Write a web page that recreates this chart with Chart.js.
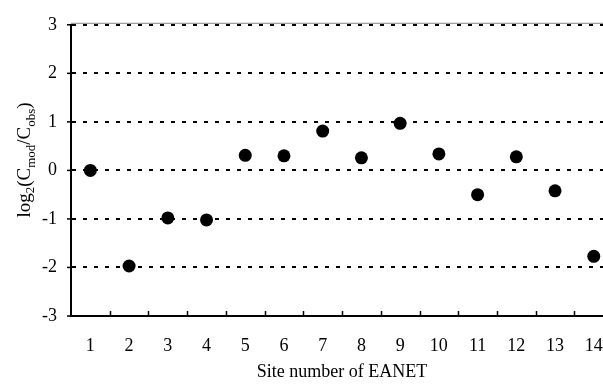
<!DOCTYPE html>
<html>
<head>
<meta charset="utf-8">
<script src="https://cdn.jsdelivr.net/npm/chart.js@4.4.0/dist/chart.umd.min.js"></script>
<style>
  html, body { margin: 0; padding: 0; background: #fff; overflow: hidden; }
  #wrap { width: 622px; height: 385px; }
</style>
</head>
<body>
<div id="wrap"><canvas id="siteChart" width="622" height="385"></canvas></div>
<script>
// site numbers and log2 ratio of model vs observation
const sites = ["1", "2", "3", "4", "5", "6", "7", "8", "9", "10", "11", "12", "13", "14"];
const logRatio = [0.0, -1.97, -0.98, -1.02, 0.31, 0.30, 0.81, 0.26, 0.97, 0.34, -0.50, 0.28, -0.42, -1.77];
const yTicks = [-3, -2, -1, 0, 1, 2, 3];

const serif = "'Liberation Serif', 'DejaVu Serif', serif";

// inward ticks between categories + top line + rotated y title with subscripts
const extras = {
  id: "extras",
  beforeDatasetsDraw(chart) {
    const { ctx, chartArea, scales } = chart;
    const x = scales.x;
    ctx.save();
    // ticks at category boundaries, pointing up into the plot
    ctx.strokeStyle = "#000";
    ctx.lineWidth = 1.5;
    for (let i = 1; i < sites.length; i++) {
      const px = Math.round((x.getPixelForValue(i - 1) + x.getPixelForValue(i)) / 2) + 0.5;
      ctx.beginPath();
      ctx.moveTo(px, chartArea.bottom);
      ctx.lineTo(px, chartArea.bottom - 5);
      ctx.stroke();
    }
    // small outward ticks on the y axis
    yTicks.forEach(v => {
      const py = scales.y.getPixelForValue(v);
      ctx.beginPath();
      ctx.moveTo(chartArea.left - 4, py);
      ctx.lineTo(chartArea.left, py);
      ctx.stroke();
    });
    // grey solid line under the dashed top gridline
    ctx.strokeStyle = "#888";
    ctx.lineWidth = 1;
    ctx.beginPath();
    ctx.moveTo(chartArea.left, chartArea.top - 1.5);
    ctx.lineTo(chartArea.right, chartArea.top - 1.5);
    ctx.stroke();
    ctx.restore();
  },
  afterDraw(chart) {
    const { ctx } = chart;
    ctx.save();
    ctx.translate(26, 160);
    ctx.rotate(-Math.PI / 2);
    ctx.fillStyle = "#000";
    ctx.textBaseline = "alphabetic";
    const parts = [
      ["log", 19, 0],
      ["2", 13, 4],
      ["(C", 19, 0],
      ["mod", 13, 5],
      ["/C", 19, 0],
      ["obs", 13, 5],
      [")", 19, 0]
    ];
    let total = 0;
    parts.forEach(p => {
      ctx.font = p[1] + "px " + serif;
      total += ctx.measureText(p[0]).width;
    });
    let cx = -total / 2;
    parts.forEach(p => {
      ctx.font = p[1] + "px " + serif;
      ctx.fillText(p[0], cx, 4 + p[2]);
      cx += ctx.measureText(p[0]).width;
    });
    ctx.restore();
  }
};

new Chart(document.getElementById("siteChart"), {
  type: "line",
  data: {
    labels: sites,
    datasets: [{
      data: logRatio,
      showLine: false,
      pointRadius: 6.5,
      pointHoverRadius: 6.5,
      pointBackgroundColor: "#000",
      pointBorderColor: "#000",
      pointBorderWidth: 0
    }]
  },
  options: {
    responsive: false,
    animation: false,
    layout: { padding: { top: 24, right: 0, left: 0, bottom: 0 } },
    plugins: {
      legend: { display: false },
      tooltip: { enabled: false }
    },
    scales: {
      x: {
        offset: true,
        grid: { display: false, drawTicks: false },
        border: { display: true, color: "#000", width: 2 },
        ticks: {
          color: "#000",
          font: { family: serif, size: 18 },
          padding: 19,
          maxRotation: 0
        },
        title: {
          display: true,
          text: "Site number of EANET",
          color: "#000",
          font: { family: serif, size: 18 },
          padding: { top: 0, bottom: 2 }
        },
        afterFit(scale) { scale.height = 69; }
      },
      y: {
        min: -3,
        max: 3,
        afterBuildTicks(scale) { scale.ticks = yTicks.map(v => ({ value: v })); },
        grid: {
          color: "#000",
          lineWidth: 2,
          drawTicks: false
        },
        border: { display: true, color: "#000", width: 2, dash: [4, 7] },
        ticks: {
          color: "#000",
          font: { family: serif, size: 18 },
          padding: 14
        },
        afterFit(scale) { scale.width = 71; }
      }
    }
  },
  plugins: [extras]
});
</script>
</body>
</html>
